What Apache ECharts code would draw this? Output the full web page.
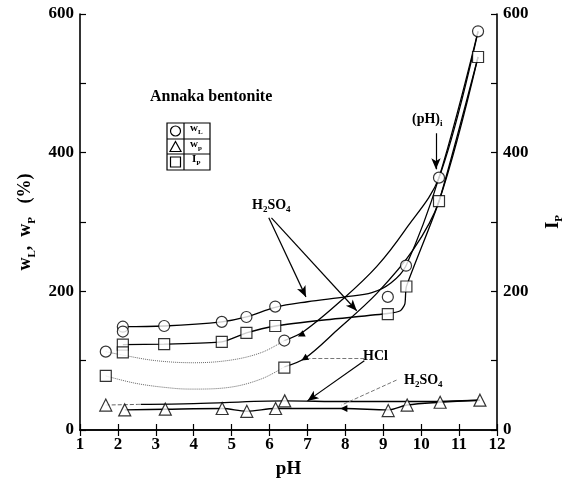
<!DOCTYPE html>
<html>
<head>
<meta charset="utf-8">
<script src="https://cdn.jsdelivr.net/npm/echarts@6/dist/echarts.min.js"></script>
<style>
  html, body { margin: 0; padding: 0; background: #fff; }
  #main { width: 565px; height: 483px; }
</style>
</head>
<body>
<div id="main"></div>
<script>
// measured points (pH, value)
const wLPoints = [[1.68, 113], [2.13, 149], [2.13, 142], [3.22, 150], [4.74, 156], [5.39, 163], [6.15, 178],
  [6.39, 129], [9.12, 192], [9.6, 237], [10.47, 364], [11.5, 575]];
const wPPoints = [[1.68, 36], [2.18, 29], [3.25, 30], [4.75, 31], [5.4, 27], [6.16, 31], [6.4, 42],
  [9.13, 28], [9.63, 36], [10.5, 40], [11.55, 43]];
const ipPoints = [[1.68, 78], [2.13, 123], [2.13, 112], [3.22, 124], [4.74, 127], [5.39, 140], [6.15, 150],
  [6.39, 90], [9.12, 167], [9.61, 207], [10.47, 330], [11.5, 538]];

// drawn curves
const h2so4WL = [[2.13, 149], [3.22, 150], [4.74, 156], [5.39, 163], [6.15, 177], [7.0, 185], [8.0, 192],
  [8.7, 198], [9.2, 212], [9.6, 237], [10.47, 364], [11.5, 575]];
const h2so4IP = [[2.13, 123], [3.22, 124], [4.74, 127], [5.39, 140], [6.15, 150], [7.5, 159], [9.12, 168],
  [9.45, 172], [9.57, 182], [9.61, 207], [10.47, 330], [11.5, 538]];
const hclWL = [[6.39, 129], [6.9, 142], [7.96, 190], [8.83, 236], [9.57, 288], [10.47, 364], [11.5, 575]];
const hclIP = [[6.39, 91], [6.92, 103], [7.78, 144], [8.83, 197], [9.79, 260], [10.47, 330], [11.5, 538]];
const hclWLlow = [[1.68, 113], [2.13, 108], [3.0, 100], [4.0, 97], [5.0, 101], [5.8, 112], [6.39, 129]];
const hclIPlow = [[1.68, 78], [2.5, 67], [3.5, 60], [4.0, 59], [5.0, 62], [5.8, 74], [6.39, 91]];
const h2so4WP = [[2.18, 29], [3.25, 30], [4.75, 31], [5.4, 27], [6.16, 31], [8.0, 31], [9.13, 29],
  [9.63, 36], [10.5, 40], [11.55, 43]];
const hclWP = [[2.6, 37], [4.0, 38], [6.4, 42], [8.0, 41], [10.0, 41], [11.55, 43]];
const hclWPlow = [[1.68, 36], [2.6, 37]];

const xTicks = [1, 2, 3, 4, 5, 6, 7, 8, 9, 10, 11, 12];
const yLabels = [0, 200, 400, 600];

const FONT = '"Liberation Serif", "Times New Roman", serif';
const myChart = echarts.init(document.getElementById('main'));

const curve = (data, opts) => Object.assign({
  type: 'line',
  data: data,
  smooth: 0.35,
  showSymbol: false,
  symbol: 'none',
  silent: true,
  lineStyle: { color: '#000', width: 1.3 },
  z: 2,
}, opts || {});

const markers = (data, symbol, size, yIdx) => ({
  type: 'scatter',
  data: data,
  yAxisIndex: yIdx,
  symbol: symbol,
  symbolSize: size,
  itemStyle: { color: '#fff', borderColor: '#000', borderWidth: 1.2 },
  z: 5,
});

const arrow = (from, to, withHead, dotted) => [
  { coord: from, symbol: 'none' },
  { coord: to, symbol: withHead ? 'arrow' : 'none', symbolSize: [7, 11],
    lineStyle: { color: dotted ? '#777' : '#000', width: dotted ? 1 : 1.2, type: dotted ? 'dashed' : 'solid' } },
];

const rich = {
  b: { fontFamily: FONT, fontWeight: 'bold', fontSize: 18, color: '#000', lineHeight: 24 },
  s: { fontFamily: FONT, fontWeight: 'bold', fontSize: 11, color: '#000', lineHeight: 15, verticalAlign: 'bottom' },
};

const sub = (m, t) => ({
  m: { fontFamily: FONT, fontWeight: 'bold', fontSize: m, lineHeight: m + 4, fill: '#000' },
  t: { fontFamily: FONT, fontWeight: 'bold', fontSize: t, lineHeight: t + 3, verticalAlign: 'bottom', fill: '#000' },
});

const option = {
  animation: false,
  backgroundColor: '#fff',
  grid: { left: 80, right: 68, top: 14, bottom: 53, outerBoundsMode: 'none' },
  xAxis: [{
    type: 'value',
    min: 1, max: 12, interval: 1,
    name: 'pH',
    nameLocation: 'middle',
    nameGap: 30,
    nameTextStyle: { fontFamily: FONT, fontWeight: 'bold', fontSize: 19, color: '#000' },
    axisLine: { lineStyle: { color: '#000', width: 1.6 } },
    axisTick: { inside: true, length: 6, lineStyle: { color: '#000', width: 1.2 } },
    axisLabel: {
      fontFamily: FONT, fontWeight: 'bold', fontSize: 17, color: '#000', margin: 6,
      formatter: (v) => (xTicks.indexOf(v) >= 0 ? String(v) : ''),
    },
    splitLine: { show: false },
  }, {
    type: 'value',
    position: 'top',
    min: 1, max: 12, interval: 1,
    axisLine: { lineStyle: { color: '#000', width: 1.6 } },
    axisTick: { inside: true, length: 6, lineStyle: { color: '#000', width: 1.2 } },
    axisLabel: { show: false },
    splitLine: { show: false },
  }],
  yAxis: [{
    type: 'value',
    min: 0, max: 600, interval: 100,
    name: '{b|w}{s|L}{b|,  w}{s|P}{b|   (%)}',
    nameLocation: 'middle',
    nameRotate: 90,
    nameGap: 40,
    nameTextStyle: { rich: rich },
    axisLine: { show: true, lineStyle: { color: '#000', width: 1.6 } },
    axisTick: { inside: true, length: 6, lineStyle: { color: '#000', width: 1.2 } },
    axisLabel: {
      fontFamily: FONT, fontWeight: 'bold', fontSize: 17, color: '#000', margin: 6,
      formatter: (v) => (yLabels.indexOf(v) >= 0 ? String(v) : ''),
    },
    splitLine: { show: false },
  }, {
    type: 'value',
    position: 'right',
    min: 0, max: 600, interval: 100,
    name: '{b|I}{s|P}',
    nameLocation: 'middle',
    nameRotate: 90,
    nameGap: 44,
    nameTextStyle: { rich: rich },
    axisLine: { show: true, lineStyle: { color: '#000', width: 1.6 } },
    axisTick: { inside: true, length: 6, lineStyle: { color: '#000', width: 1.2 } },
    axisLabel: {
      fontFamily: FONT, fontWeight: 'bold', fontSize: 17, color: '#000', margin: 6,
      formatter: (v) => (yLabels.indexOf(v) >= 0 ? String(v) : ''),
    },
    splitLine: { show: false },
  }],
  series: [
    curve(h2so4WL, {
      markLine: {
        silent: true,
        symbol: ['none', 'arrow'],
        label: { show: false },
        lineStyle: { color: '#000', width: 1.2, type: 'solid' },
        data: [
          arrow([10.39, 428], [10.39, 376], true),
          arrow([5.98, 306], [6.96, 192], true),
          arrow([6.05, 306], [8.3, 172], true),
          arrow([8.5, 104], [7.05, 104], false, true),
          arrow([8.5, 100], [7.0, 42], true),
          arrow([9.35, 72], [7.9, 36], false, true),
        ],
      },
      markPoint: {
        silent: true,
        label: { show: false },
        itemStyle: { color: '#000' },
        symbol: 'triangle',
        symbolSize: 7,
        data: [
          { coord: [6.83, 137], symbolRotate: 117 },
          { coord: [6.92, 103], symbolRotate: 122 },
          { coord: [7.96, 31], symbolRotate: 90 },
        ],
      },
    }),
    curve(h2so4IP, { yAxisIndex: 1, smooth: 0.2 }),
    curve(hclWL),
    curve(hclIP, { yAxisIndex: 1 }),
    curve(hclWLlow, { lineStyle: { color: '#666', width: 1, type: 'dotted' } }),
    curve(hclIPlow, { yAxisIndex: 1, lineStyle: { color: '#666', width: 1, type: 'dotted' } }),
    curve(h2so4WP, { lineStyle: { color: '#000', width: 1.4 } }),
    curve(hclWP, { lineStyle: { color: '#000', width: 1.4 } }),
    curve(hclWPlow, { lineStyle: { color: '#666', width: 1, type: 'dashed' } }),
    markers(wLPoints, 'circle', 11, 0),
    markers(wPPoints, 'triangle', 12, 0),
    markers(ipPoints, 'rect', 11, 1),
  ],
  graphic: [
    { type: 'text', left: 150, top: 89,
      style: { text: 'Annaka bentonite', font: 'bold 16px ' + FONT, fill: '#000' } },
    // legend table
    { type: 'rect', shape: { x: 167, y: 123, width: 43, height: 47 },
      style: { fill: 'none', stroke: '#000', lineWidth: 1.2 } },
    { type: 'line', shape: { x1: 184, y1: 123, x2: 184, y2: 170 }, style: { stroke: '#000', lineWidth: 1.2 } },
    { type: 'line', shape: { x1: 167, y1: 139, x2: 210, y2: 139 }, style: { stroke: '#000', lineWidth: 1.2 } },
    { type: 'line', shape: { x1: 167, y1: 154, x2: 210, y2: 154 }, style: { stroke: '#000', lineWidth: 1.2 } },
    { type: 'circle', shape: { cx: 175.5, cy: 131, r: 5 }, style: { fill: '#fff', stroke: '#000', lineWidth: 1.2 } },
    { type: 'polygon', shape: { points: [[175.5, 141.5], [181, 151.5], [170, 151.5]] },
      style: { fill: '#fff', stroke: '#000', lineWidth: 1.2 } },
    { type: 'rect', shape: { x: 170.5, y: 157, width: 10, height: 10 },
      style: { fill: '#fff', stroke: '#000', lineWidth: 1.2 } },
    { type: 'text', left: 190, top: 123, style: { text: '{m|w}{t|L}', rich: sub(11, 7) } },
    { type: 'text', left: 190, top: 139, style: { text: '{m|w}{t|p}', rich: sub(11, 7) } },
    { type: 'text', left: 192, top: 154, style: { text: '{m|I}{t|P}', rich: sub(11, 7) } },
    // annotation labels
    { type: 'text', left: 412, top: 112, style: { text: '{m|(pH)}{t|i}', rich: sub(14, 9) } },
    { type: 'text', left: 252, top: 198, style: { text: '{m|H}{t|2}{m|SO}{t|4}', rich: sub(14, 9) } },
    { type: 'text', left: 363, top: 349,
      style: { text: 'HCl', font: 'bold 14px ' + FONT, fill: '#000' } },
    { type: 'text', left: 404, top: 373, style: { text: '{m|H}{t|2}{m|SO}{t|4}', rich: sub(14, 9) } },
  ],
};

myChart.setOption(option);
</script>
</body>
</html>
